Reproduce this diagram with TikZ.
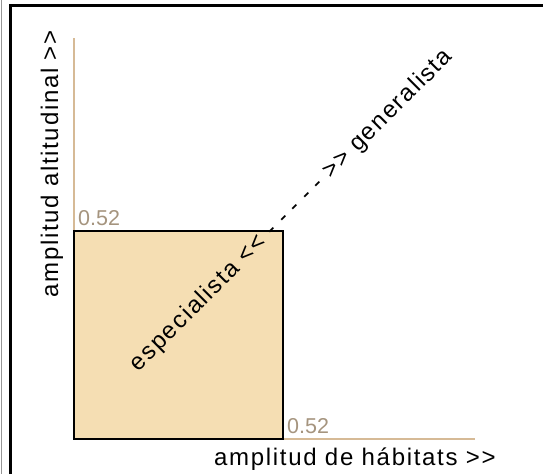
\documentclass[tikz,border=0pt]{standalone}
\usepackage{fontspec}
\setmainfont{Liberation Sans}
\newfontfamily\labfont[LetterSpace=7]{Liberation Sans}
\definecolor{sqfill}{RGB}{245,222,179}
\definecolor{axiscol}{RGB}{214,186,150}
\definecolor{numcol}{RGB}{165,148,126}
\definecolor{edgegray}{RGB}{150,150,150}
\tikzset{
  lab/.style={inner sep=0pt, font=\labfont\fontsize{24}{27}\selectfont, text=black},
  num/.style={inner sep=0pt, font=\fontsize{21.5}{24}\selectfont, text=numcol},
  axisline/.style={draw=axiscol, line width=2pt},
  sqbox/.style={draw=black, fill=sqfill, line width=1.8pt}
}
\begin{document}
\begin{tikzpicture}[x=1pt,y=-1pt]
\useasboundingbox (0,0) rectangle (543,474);
% frame
\draw[edgegray, line width=1.2pt] (1.5,0) -- (1.5,474);
\draw[black, line width=3pt] (10.5,474) -- (10.5,5.5) -- (543,5.5);
% axes
\coordinate (O) at (74,439);
\coordinate (ytop) at (74,38);
\coordinate (xend) at (475,439);
\draw[axisline] (O) -- (ytop);
\draw[axisline] (O) -- (xend);
% square
\draw[sqbox] (O) rectangle (283,231) coordinate (corner);
% labels
\node[num, anchor=base west] (ny) at (78,225) {0.52};
\node[num, anchor=base west] (nx) at (287,433) {0.52};
\node[lab, anchor=base west] (xl) at (214,465) {amplitud de hábitats >>};
\node[lab, anchor=base, rotate=90] (yl) at (58,164) {amplitud altitudinal >>};
\node[lab, anchor=base, rotate=45] (diag) at (296,215) {especialista << - - - - - >> generalista};
\end{tikzpicture}
\end{document}
